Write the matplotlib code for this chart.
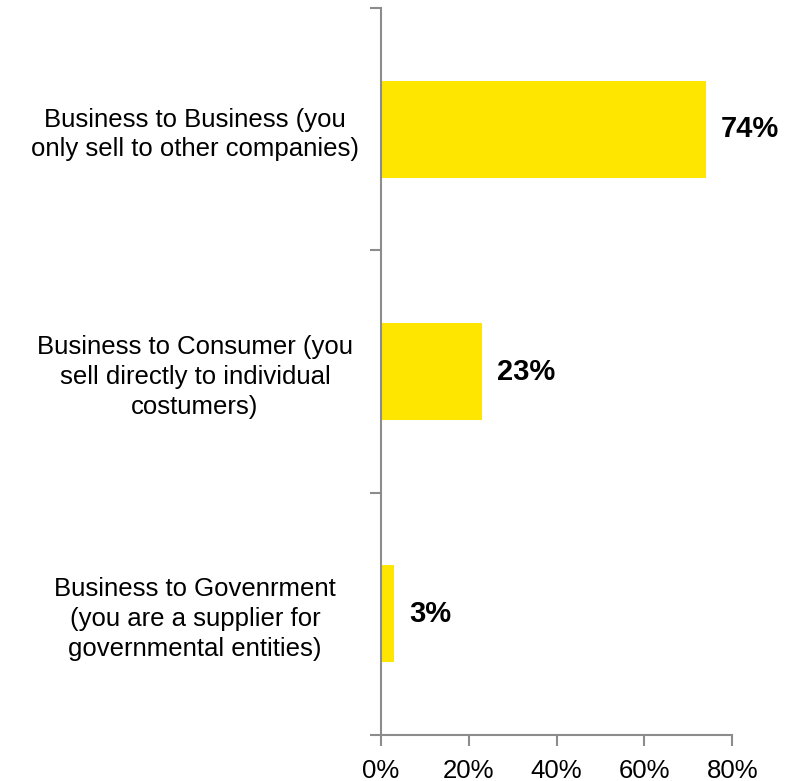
import matplotlib
matplotlib.use("Agg")
import matplotlib.pyplot as plt
from matplotlib.ticker import FixedLocator, PercentFormatter

plt.rcParams["font.family"] = ["Liberation Sans", "DejaVu Sans"]

categories = [
    "Business to Business (you\nonly sell to other companies)",
    "Business to Consumer (you\nsell directly to individual\ncostumers)",
    "Business to Govenrment\n(you are a supplier for\ngovernmental entities)",
]
values = [74, 23, 3]
x_ticks = [0, 20, 40, 60, 80]

bar_color = "#FFE600"
axis_color = "#8C8C8C"

fig = plt.figure(figsize=(8.0, 7.81), dpi=100)
ax = fig.add_axes([381 / 800, 1 - 735 / 781, (732.3 - 381) / 800, (735 - 8) / 781])

ypos = list(range(len(categories)))
ax.barh(ypos, values, height=0.4, color=bar_color, zorder=2)

ax.set_xlim(0, 80)
ax.set_ylim(len(categories) - 0.5, -0.5)

ax.xaxis.set_major_locator(FixedLocator(x_ticks))
ax.xaxis.set_major_formatter(PercentFormatter(decimals=0))

ax.set_yticks(ypos)
ax.set_yticklabels(categories, ha="center", multialignment="center", linespacing=1.3)
ax.tick_params(axis="y", which="major", length=0, pad=134, labelsize=18.5)
ax.yaxis.set_minor_locator(FixedLocator([-0.5, 0.5, 1.5, 2.5]))
ax.tick_params(axis="y", which="minor", length=8, width=1.5, color=axis_color, direction="out")
ax.tick_params(axis="x", which="major", length=8, width=1.5, color=axis_color,
               direction="out", labelsize=18.5, pad=9)

for side in ("top", "right"):
    ax.spines[side].set_visible(False)
for side in ("left", "bottom"):
    ax.spines[side].set_color(axis_color)
    ax.spines[side].set_linewidth(1.5)

for y, v in zip(ypos, values):
    ax.text(v + 3.4, y, f"{v}%", va="center", ha="left",
            fontsize=21, fontweight="bold", color="black")

fig.savefig("out.png", dpi=100)
